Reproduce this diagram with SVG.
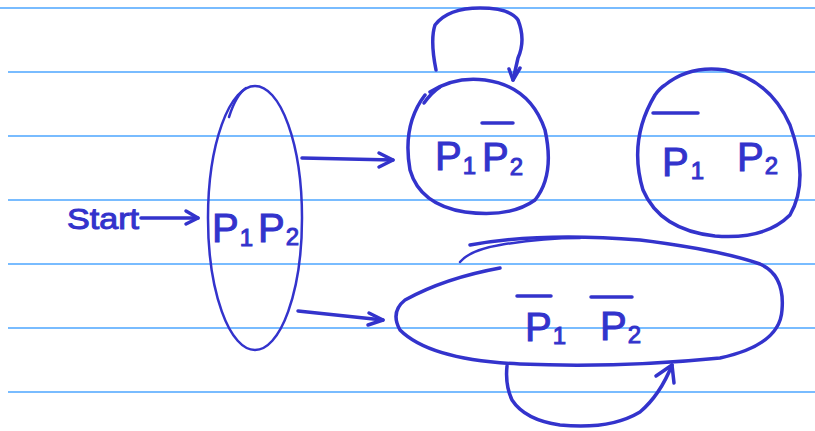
<svg xmlns="http://www.w3.org/2000/svg" width="815" height="431" viewBox="0 0 815 431">
<style>
.rule{stroke:#4da6ff;stroke-width:1.6}
.ink{fill:none;stroke:#3333cc;stroke-width:3.5;stroke-linecap:round;stroke-linejoin:round}
.thin{fill:none;stroke:#3333cc;stroke-width:2.5;stroke-linecap:round;stroke-linejoin:round}
.t{fill:#3333cc;stroke:#3333cc;stroke-width:1;font-family:"Liberation Sans",Arial,sans-serif;font-size:40px}
.sub{font-size:24px}
.bar{stroke:#3333cc;stroke-width:3.5;stroke-linecap:round}
</style>
<rect width="815" height="431" fill="#ffffff"/>
<g id="rules">
<line class="rule" x1="0" y1="8" x2="815" y2="8"/>
<line class="rule" x1="8" y1="72" x2="815" y2="72"/>
<line class="rule" x1="8" y1="136" x2="815" y2="136"/>
<line class="rule" x1="8" y1="200" x2="815" y2="200"/>
<line class="rule" x1="8" y1="264" x2="815" y2="264"/>
<line class="rule" x1="8" y1="328" x2="815" y2="328"/>
<line class="rule" x1="8" y1="392" x2="815" y2="392"/>
</g>
<g id="start">
<text class="t" x="67" y="229" style="font-size:30px" textLength="72" lengthAdjust="spacingAndGlyphs">Start</text>
</g>
<g id="s_p1p2">
<ellipse class="thin" cx="255" cy="218" rx="47" ry="132"/>
<path class="thin" d="M229,117 Q236,95 246,88"/>
<text class="t" x="212" y="242">P<tspan class="sub" dx="1" dy="4">1</tspan></text>
<text class="t" x="258" y="242">P<tspan class="sub" dx="1" dy="3">2</tspan></text>
</g>
<g id="s_p1np2">
<path class="ink" d="M430,92 Q455,76 485,80 Q530,86 545,130 Q555,175 535,200 Q510,218 465,212 Q420,205 410,170 Q402,125 425,95"/>
<path class="ink" d="M424,103 Q432,92 440,87"/>
<text class="t" x="435" y="170">P<tspan class="sub" dx="1" dy="4">1</tspan></text>
<line class="bar" x1="482" y1="123" x2="513" y2="123"/>
<text class="t" x="482" y="171">P<tspan class="sub" dx="1" dy="4">2</tspan></text>
</g>
<g id="s_np1p2">
<path class="ink" d="M665,85 Q690,65 725,70 Q770,80 790,125 Q810,180 790,215 Q765,240 715,236 Q660,230 643,190 Q628,140 655,95 Q660,88 665,85"/>
<line class="bar" x1="653" y1="113" x2="698" y2="113"/>
<text class="t" x="662" y="176">P<tspan class="sub" dx="2" dy="3">1</tspan></text>
<text class="t" x="737" y="171">P<tspan class="sub" dx="1" dy="3">2</tspan></text>
</g>
<g id="s_np1np2">
<path class="ink" d="M500,268 Q445,278 405,300 Q390,312 400,330 Q430,360 520,364 Q620,368 720,358 Q780,345 782,310 Q785,275 760,264 Q720,250 640,240 Q540,232 470,245"/>
<path class="thin" d="M460,262 Q470,250 500,245 Q540,238 580,238"/>
<line class="bar" x1="517" y1="296" x2="551" y2="296"/>
<text class="t" x="525" y="341">P<tspan class="sub" dx="1" dy="3">1</tspan></text>
<line class="bar" x1="591" y1="297" x2="632" y2="297"/>
<text class="t" x="600" y="340">P<tspan class="sub" dx="1" dy="3">2</tspan></text>
</g>
<g id="connectors">
<path class="ink" d="M141,218 L198,218"/>
<path class="ink" d="M186,211 L198,218 L186,224"/>
<path class="ink" d="M302,158 L393,160"/>
<path class="ink" d="M379,153 L393,160 L379,167"/>
<path class="ink" d="M298,311 L383,320"/>
<path class="ink" d="M369,313 L383,320 L368,325"/>
<path class="ink" d="M436,70 Q430,40 435,25 Q448,8 480,8 Q510,8 518,20 Q526,40 518,58 L513,80"/>
<path class="ink" d="M509,69 L513,80 L520,68"/>
<path class="ink" d="M507,366 Q505,385 512,400 Q525,420 560,425 Q610,430 640,412 Q660,395 672,365"/>
<path class="ink" d="M656,376 L672,365 L674,383"/>
</g>
</svg>
